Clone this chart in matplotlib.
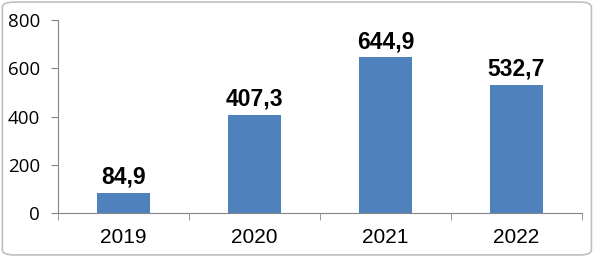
import numpy as np
import matplotlib.pyplot as plt
from matplotlib.patches import FancyBboxPatch

# data to plot
years = ['2019', '2020', '2021', '2022']
values = [84.9, 407.3, 644.9, 532.7]
labels = ['84,9', '407,3', '644,9', '532,7']

fig = plt.figure(figsize=(5.95, 2.57), dpi=100)
ax = fig.add_axes([0.0975, 0.171, 0.8805, 0.751])

index = np.arange(len(years))
ax.bar(index, values, 0.4, color='#4F81BD')

ax.set_xlim(-0.5, len(years) - 0.5)
ax.set_ylim(0, 800)
ax.set_yticks([0, 200, 400, 600, 800])
ax.set_yticklabels(['0', '200', '400', '600', '800'], fontsize=13.5, family='Open Sans')

ax.set_xticks(index)
ax.set_xticklabels(years, fontsize=15, family='Liberation Sans')
ax.set_xticks(np.arange(len(years) + 1) - 0.5, minor=True)
ax.tick_params(axis='x', which='major', length=0, pad=11)
ax.tick_params(axis='x', which='minor', length=5, color='#868686')
ax.tick_params(axis='y', length=5, color='#868686', pad=8)

for s in ['top', 'right']:
    ax.spines[s].set_visible(False)
for s in ['left', 'bottom']:
    ax.spines[s].set_color('#868686')

for i, v in enumerate(values):
    ax.text(i, v + 16, labels[i], ha='center', va='bottom', fontsize=16.5,
            fontweight='bold', family='Liberation Sans')

# rounded border round the chart
border = FancyBboxPatch((0.004, 0.008), 0.99, 0.984, boxstyle='round,pad=0,rounding_size=0.02',
                        transform=fig.transFigure, fill=False, edgecolor='#BFBFBF', lw=1.2)
fig.patches.append(border)

plt.savefig('out.png', dpi=100)
